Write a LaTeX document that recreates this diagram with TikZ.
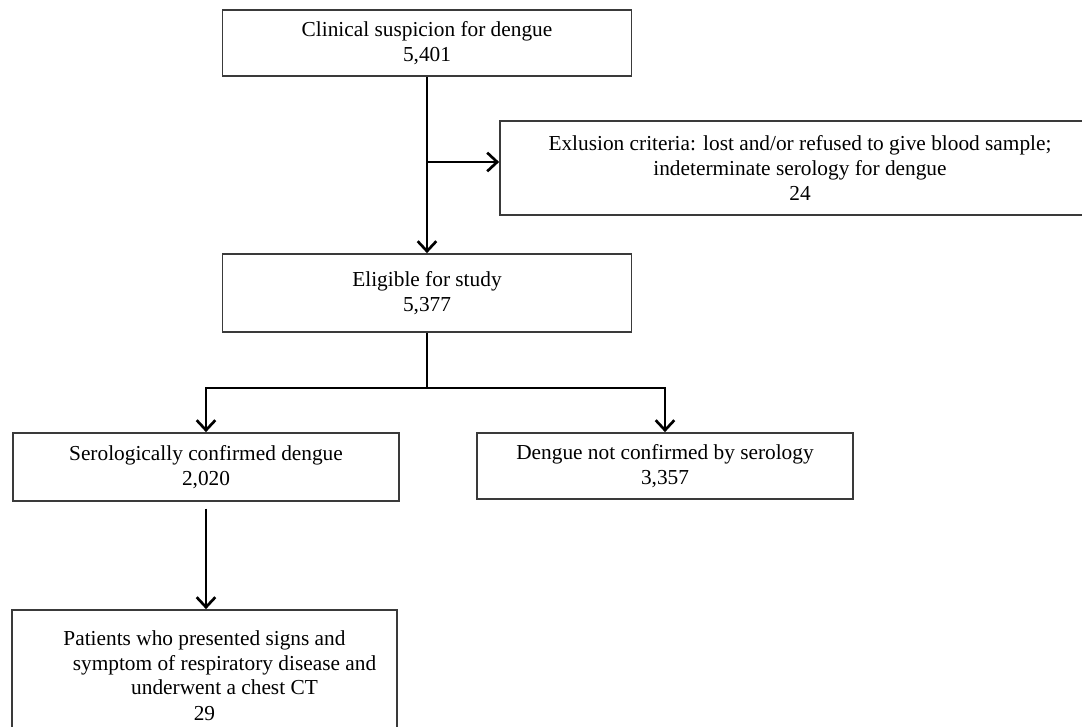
\documentclass[tikz,border=0pt]{standalone}
\usepackage{fontspec}
\setmainfont{Liberation Serif}
\usepackage{tikz}
\definecolor{boxgray}{HTML}{3A3A3A}
\usetikzlibrary{arrows.meta}
\tikzstyle{block} = [rectangle, draw=boxgray, line width=1.3pt, align=center, inner sep=0pt,
font=\fontsize{16}{18.5}\selectfont]
\tikzstyle{arrow} = [line width=1.5pt, -{Straight Barb[length=7.5pt, width=14pt, line width=2pt]}]
\tikzstyle{line} = [line width=1.5pt]

\begin{document}
\begin{tikzpicture}[x=0.75pt, y=-0.75pt]
	\useasboundingbox (0,0) rectangle (1082,727);
	\clip (0,0) rectangle (1082,727);
	\node (Suspicion) [block, minimum width=306.75pt, minimum height=49.5pt] at (427,43) {Clinical suspicion for dengue\\5,401};
	\node (Exclusion) [block, minimum width=450pt, minimum height=70.5pt] at (800,168) {Exlusion criteria: lost and/or refused to give blood sample;\\indeterminate serology for dengue\\24};
	\node (Eligible) [block, minimum width=306.75pt, minimum height=58.5pt] at (427,293) {Eligible for study\\5,377};
	\node (Confirmed) [block, minimum width=289.5pt, minimum height=51pt] at (206,467) {Serologically confirmed dengue\\2,020};
	\node (NotConfirmed) [block, minimum width=282pt, minimum height=49.5pt] at (665,466) {Dengue not confirmed by serology\\3,357};
	\node (Patients) [block, minimum width=288.75pt, minimum height=99pt] at (204.5,676) {Patients who presented signs and\\\hspace*{30pt}symptom of respiratory disease and\\\hspace*{30pt}underwent a chest CT\\[1pt]29};
	\coordinate (ExclSplit) at (427,162);
	\coordinate (Branch) at (427,388);

	\draw [arrow] (Suspicion.south) -- (Eligible.north);
	\draw [arrow] (ExclSplit) -- (ExclSplit -| Exclusion.west);
	\draw [line] (Eligible.south) -- (Branch);
	\draw [arrow] (Branch) -| (Confirmed.north);
	\draw [arrow] (Branch) -| (NotConfirmed.north);
	\draw [arrow, shorten <=5pt] (Confirmed.south) -- (Confirmed.south |- Patients.north);
\end{tikzpicture}
\end{document}
